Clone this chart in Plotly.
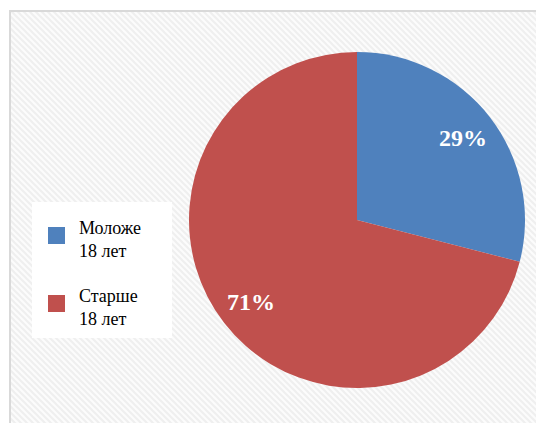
import math
import base64
import plotly.graph_objects as go

labels = ["Моложе<br>18 лет", "Старше<br>18 лет"]
values = [29, 71]
colors = ["#4F81BD", "#C0504D"]

W, H = 544, 423
OFF = 8  # page body margin
cx, cy, R = 357 - OFF, 220 - OFF, 168

def px(x):
    return x / W

def py(y):
    return 1 - y / H

fig = go.Figure()
fig.add_trace(go.Pie(
    labels=labels, values=values, sort=False, direction="clockwise", rotation=0,
    marker=dict(colors=colors, line=dict(width=0)),
    textinfo="none", hoverinfo="label+percent", showlegend=False,
    domain=dict(x=[px(cx - R), px(cx + R)], y=[py(cy + R), py(cy - R)]),
))

# diagonal stripe background pattern
svg = (
    f'<svg xmlns="http://www.w3.org/2000/svg" width="{W}" height="{H}" viewBox="0 0 {W} {H}">'
    '<defs><pattern id="p" patternUnits="userSpaceOnUse" width="6" height="6">'
    '<rect width="6" height="6" fill="#fcfcfc"/>'
    '<path d="M-1,-1 L7,7 M-4,2 L2,8 M4,-2 L10,4" stroke="#efefef" stroke-width="2"/>'
    '</pattern></defs>'
    f'<rect x="{10 - OFF}" y="{11 - OFF}" width="{W}" height="{H}" fill="url(#p)"/>'
    '</svg>'
)
src = "data:image/svg+xml;base64," + base64.b64encode(svg.encode()).decode()

shapes = [
    dict(type="rect", xref="paper", yref="paper", x0=px(10 - OFF), x1=px(W + 20), y0=py(H + 20), y1=py(11 - OFF),
         fillcolor="rgba(0,0,0,0)", line=dict(color="#d9d9d9", width=2), layer="below"),
    dict(type="rect", xref="paper", yref="paper", x0=px(32 - OFF), x1=px(172 - OFF), y0=py(338 - OFF), y1=py(202 - OFF),
         fillcolor="white", line=dict(width=0), layer="above"),
]
annotations = []

total = sum(values)
cum = 0
for i, (lab, v, c) in enumerate(zip(labels, values, colors)):
    mid = (cum + v / 2) / total * 2 * math.pi
    cum += v
    lx = cx + 0.8 * R * math.sin(mid)
    ly = cy - 0.8 * R * math.cos(mid)
    annotations.append(dict(
        x=px(lx), y=py(ly), xref="paper", yref="paper", showarrow=False,
        text=f"{round(v / total * 100)}%", xanchor="center", yanchor="middle",
        font=dict(family="Liberation Serif, Times New Roman, serif", size=24, color="white", weight="bold"),
    ))
    sy = 235.5 + i * 68 - OFF
    shapes.append(dict(type="rect", xref="paper", yref="paper", x0=px(48 - OFF), x1=px(65 - OFF),
                       y0=py(sy + 8.5), y1=py(sy - 8.5), fillcolor=c, line=dict(width=0)))
    annotations.append(dict(
        x=px(77 - OFF), y=py(sy + 4), xref="paper", yref="paper", showarrow=False,
        text=lab, xanchor="left", yanchor="middle", align="left",
        font=dict(family="Liberation Serif, Times New Roman, serif", size=18, color="black"),
    ))

fig.update_layout(
    width=W, height=H, margin=dict(l=0, r=0, t=0, b=0),
    paper_bgcolor="white", plot_bgcolor="white",
    shapes=shapes, annotations=annotations, showlegend=False,
    images=[dict(source=src, xref="paper", yref="paper", x=0, y=1, sizex=1, sizey=1,
                 xanchor="left", yanchor="top", sizing="stretch", layer="below")],
)
fig.write_html("out.html")
